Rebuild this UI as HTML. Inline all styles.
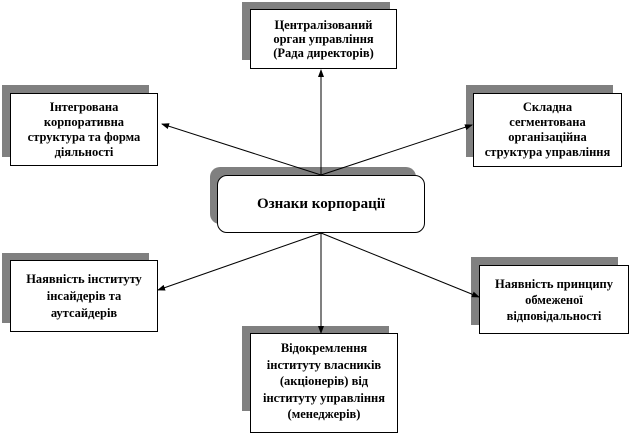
<!DOCTYPE html>
<html><head><meta charset="utf-8"><style>
body{margin:0;width:629px;height:421px;overflow:hidden;background:#fff;font-family:"Liberation Serif",serif;}
.s{position:absolute;background:#808080;}
.b{position:absolute;background:#fff;border:1px solid #000;box-sizing:border-box;display:flex;align-items:center;justify-content:center;text-align:center;font-weight:bold;font-size:12.5px;line-height:15px;color:#000;}
</style></head><body>
<div class="s" style="left:242px;top:2px;width:148px;height:58px"></div>
<div class="b" style="left:250px;top:9px;width:147px;height:60px;line-height:14px">Централізований<br>орган управління<br>(Рада директорів)</div>

<div class="s" style="left:210px;top:167px;width:206px;height:57px;border-radius:10px"></div>
<div class="b" style="left:217px;top:175px;width:208px;height:58px;border-radius:10px;font-size:15px">Ознаки корпорації</div>

<div class="s" style="left:2px;top:85px;width:147px;height:72px"></div>
<div class="b" style="left:10px;top:93px;width:148px;height:73px">Інтегрована<br>корпоративна<br>структура та форма<br>діяльності</div>

<div class="s" style="left:2px;top:253px;width:147px;height:70px"></div>
<div class="b" style="left:10px;top:260px;width:148px;height:72px;line-height:17px">Наявність інституту<br>інсайдерів та<br>аутсайдерів</div>

<div class="s" style="left:466px;top:85px;width:147px;height:72px"></div>
<div class="b" style="left:473px;top:93px;width:149px;height:74px">Складна<br>сегментована<br>організаційна<br>структура управління</div>

<div class="s" style="left:471px;top:257px;width:147px;height:68px"></div>
<div class="b" style="left:479px;top:265px;width:150px;height:69px;line-height:16px">Наявність принципу<br>обмеженої<br>відповідальності</div>

<div class="s" style="left:242px;top:326px;width:147px;height:85px"></div>
<div class="b" style="left:250px;top:333px;width:148px;height:100px;align-items:flex-start;padding-top:6px;line-height:16.5px">Відокремлення<br>інституту власників<br>(акціонерів) від<br>інституту управління<br>(менеджерів)</div>

<svg width="629" height="421" style="position:absolute;left:0;top:0" xmlns="http://www.w3.org/2000/svg">
<defs><marker id="a" markerWidth="8" markerHeight="6" refX="7" refY="3" orient="auto" markerUnits="userSpaceOnUse"><path d="M0,0L8,3L0,6z" fill="#000"/></marker></defs>
<g stroke="#000" stroke-width="1" fill="none">
<line x1="321" y1="175" x2="321" y2="70" marker-end="url(#a)"/>
<line x1="321" y1="175" x2="162" y2="124" marker-end="url(#a)"/>
<line x1="321" y1="175" x2="472" y2="125" marker-end="url(#a)"/>
<line x1="321" y1="233" x2="321" y2="333" marker-end="url(#a)"/>
<line x1="321" y1="233" x2="158" y2="290" marker-end="url(#a)"/>
<line x1="321" y1="233" x2="479" y2="297" marker-end="url(#a)"/>
</g></svg>
</body></html>
